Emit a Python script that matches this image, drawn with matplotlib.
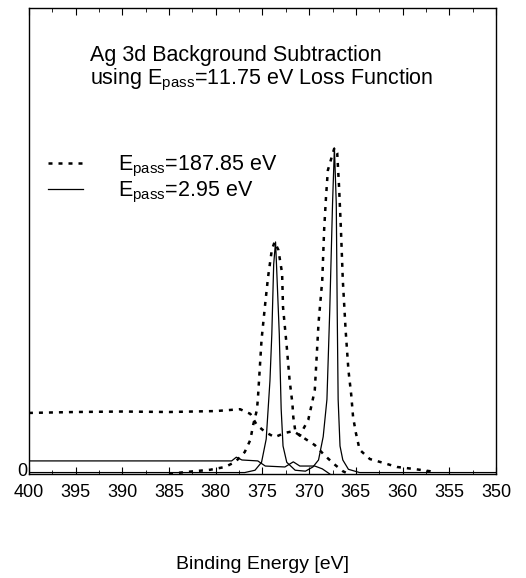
import numpy as np
import matplotlib
matplotlib.use('Agg')
from matplotlib import pyplot as plt
from matplotlib.ticker import MultipleLocator
import matplotlib.transforms as mtransforms

plt.rcParams['font.family'] = ['Liberation Sans', 'DejaVu Sans']
plt.rcParams['mathtext.fontset'] = 'custom'
plt.rcParams['mathtext.rm'] = 'Liberation Sans'

# E_pass = 187.85 eV, background-subtracted spectrum
be_wide = [385.0, 383.3, 380.6, 379.0, 377.9, 376.9, 376.3, 376.0, 375.6, 375.5,
           375.3, 375.1, 374.7, 374.4, 374.0, 373.7, 373.3, 372.9, 372.8, 372.4,
           372.1, 371.8, 371.7, 371.5, 371.0, 370.7, 370.1, 369.7, 369.4, 369.2,
           369.0, 368.6, 368.4, 368.2, 368.0, 367.3, 367.0, 366.8, 366.6, 366.4,
           366.1, 365.8, 365.5, 365.3, 365.0, 364.6, 363.5, 362.1, 360.6, 358.9,
           357.1, 356.5]
int_wide = [0.0, 0.4, 0.9, 1.5, 2.6, 4.7, 7.3, 10.5, 13.7, 15.9,
            22.3, 28.8, 36.7, 42.3, 48.1, 49.8, 48.1, 43.1, 35.8, 27.3,
            20.2, 15.2, 12.2, 9.4, 8.2, 9.4, 11.6, 15.2, 18.0, 25.1,
            32.4, 41.6, 52.4, 59.4, 65.2, 70.0, 68.9, 61.6, 52.4, 41.6,
            30.9, 22.3, 17.0, 12.2, 8.8, 5.2, 3.2, 2.4, 1.5, 1.1,
            0.6, 0.0]

# E_pass = 187.85 eV, background
be_wide_bg = [400.0, 395.0, 390.0, 385.0, 380.0, 377.4, 376.3, 375.6, 374.7, 373.7,
              372.6, 371.7, 370.7, 369.4, 368.3, 367.2, 366.4, 365.8]
bg_wide = [13.1, 13.3, 13.4, 13.3, 13.5, 13.9, 12.9, 10.5, 9.0, 7.9,
           8.8, 9.2, 7.9, 6.2, 3.9, 1.9, 0.6, 0.0]

# E_pass = 2.95 eV, background-subtracted spectrum
be_narrow = [400.0, 376.9, 375.8, 375.1, 374.6, 374.2, 374.0, 373.8, 373.6, 373.5,
             373.2, 373.0, 372.8, 372.4, 371.5, 370.4, 369.6, 369.0, 368.5, 368.1,
             367.8, 367.5, 367.3, 367.1, 367.0, 366.9, 366.7, 366.4, 365.8, 364.6,
             350.0]
int_narrow = [0.3, 0.3, 0.8, 2.5, 7.5, 20.0, 30.0, 45.0, 49.8, 45.0,
              30.0, 14.0, 6.0, 2.5, 0.8, 0.6, 1.5, 3.0, 8.0, 16.0,
              35.0, 58.0, 70.0, 58.0, 35.0, 16.0, 6.0, 3.0, 1.0, 0.3,
              0.3]

# E_pass = 2.95 eV, background
be_narrow_bg = [400.0, 390.0, 378.3, 377.8, 377.2, 375.5, 374.7, 372.6, 371.7, 371.0,
                369.4, 368.6, 367.8]
bg_narrow = [2.8, 2.8, 2.8, 3.6, 3.0, 2.8, 1.7, 1.5, 2.6, 1.7,
             1.7, 1.1, 0.0]

x_ticks = [400, 395, 390, 385, 380, 375, 370, 365, 360, 355, 350]

fig = plt.figure(figsize=(5.26, 5.78), dpi=100)
ax = fig.add_axes([0.055, 0.18, 0.888, 0.806])

dash = (1.6, 2.4)
l1, = ax.plot(be_wide, int_wide, color='black', lw=1.8, dashes=dash)
ax.plot(be_wide_bg, bg_wide, color='black', lw=1.8, dashes=dash)
l2, = ax.plot(be_narrow, int_narrow, color='black', lw=0.9)
ax.plot(be_narrow_bg, bg_narrow, color='black', lw=0.9)

ax.set_xlim(400, 350)
ax.set_ylim(0, 100)
ax.set_xticks(x_ticks)
ax.set_xticklabels([str(t) for t in x_ticks])
ax.xaxis.set_minor_locator(MultipleLocator(2.5))
ax.tick_params(axis='x', which='both', direction='in', top=True, labelsize=13, pad=7)
ax.tick_params(axis='x', which='major', length=5)
ax.tick_params(axis='x', which='minor', length=3)
ax.set_yticks([0])
ax.set_yticklabels(['0'])
ax.tick_params(axis='y', length=0, labelsize=13, pad=1)
# lift the lone "0" a little so it clears the "400" below it
shift = mtransforms.ScaledTranslation(0, 4 / 100, fig.dpi_scale_trans)
for lab in ax.get_yticklabels():
    lab.set_transform(lab.get_transform() + shift)
for s in ax.spines.values():
    s.set_linewidth(1.0)

ax.text(0.13, 0.899, 'Ag 3d Background Subtraction', transform=ax.transAxes,
        fontsize=15.5, va='center')
ax.text(0.13, 0.845, r'using E$_{\rm pass}$=11.75 eV Loss Function', transform=ax.transAxes,
        fontsize=15.5, va='center')

ax.legend([l1, l2], [r'E$_{\rm pass}$=187.85 eV', r'E$_{\rm pass}$=2.95 eV'],
          loc='upper left', bbox_to_anchor=(0.041, 0.687), frameon=False,
          borderaxespad=0, borderpad=0,
          fontsize=15.5, handlelength=1.63, handletextpad=1.63, labelspacing=0.05)

fig.text(0.5, 0.0225, 'Binding Energy [eV]', ha='center', va='center', fontsize=14)

fig.savefig('out.png', dpi=100)
